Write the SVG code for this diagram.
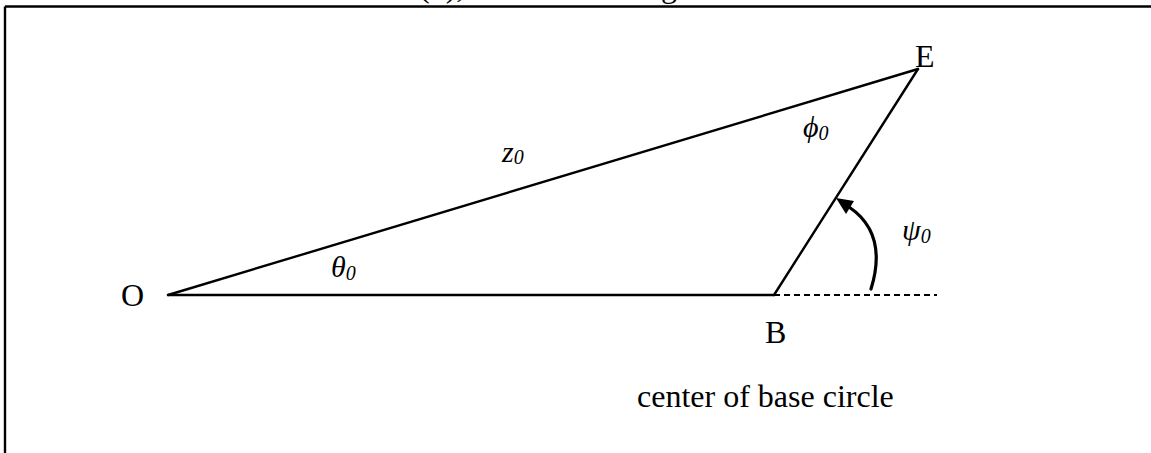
<svg xmlns="http://www.w3.org/2000/svg" width="1151" height="453" viewBox="0 0 1151 453">
<style>
.t{font-family:"Liberation Serif","Times New Roman",serif;font-size:32px;fill:#000}
.m{font-family:"Liberation Serif","Times New Roman",serif;font-size:30px;font-style:italic;fill:#000}
.s{font-size:20px}
.ln{stroke:#000;stroke-width:2.4;fill:none;stroke-linecap:round}
</style>
<rect width="1151" height="453" fill="#fff"/>
<text class="t" x="419" y="-3.5">(b),</text>
<text class="t" x="661" y="-3.5">g</text>
<g id="frame">
<path d="M5 6.5 H1151 M5 6.5 V453" stroke="#000" stroke-width="2.4" fill="none"/>
</g>
<g id="connectors">
<path class="ln" d="M168 295 L918 69"/>
<path class="ln" d="M168 295 L774 295"/>
<path class="ln" d="M774 295 L918 69"/>
<path d="M774 295 H937" stroke="#000" stroke-width="2" stroke-dasharray="6 4" fill="none"/>
<path d="M871 289 C880 260 880 228 849 207" stroke="#000" stroke-width="3.2" fill="none" stroke-linecap="round"/>
<polygon points="836,198 854,201 846,214" fill="#000"/>
</g>
<g id="node-O"><text class="t" x="121" y="306">O</text></g>
<g id="node-B"><text class="t" x="765" y="343">B</text></g>
<g id="node-E"><text class="t" x="915" y="67">E</text></g>
<g id="label-center"><text class="t" x="637" y="407">center of base circle</text></g>
<g id="label-z0"><text class="m" x="502" y="162">z<tspan class="s" dy="2">0</tspan></text></g>
<g id="label-theta0"><text class="m" x="331" y="277">θ<tspan class="s" dy="3">0</tspan></text></g>
<g id="label-phi0"><text class="m" x="803" y="137">ϕ<tspan class="s" dy="3">0</tspan></text></g>
<g id="label-psi0"><text class="m" x="902" y="240">ψ<tspan class="s" dy="3">0</tspan></text></g>
</svg>
